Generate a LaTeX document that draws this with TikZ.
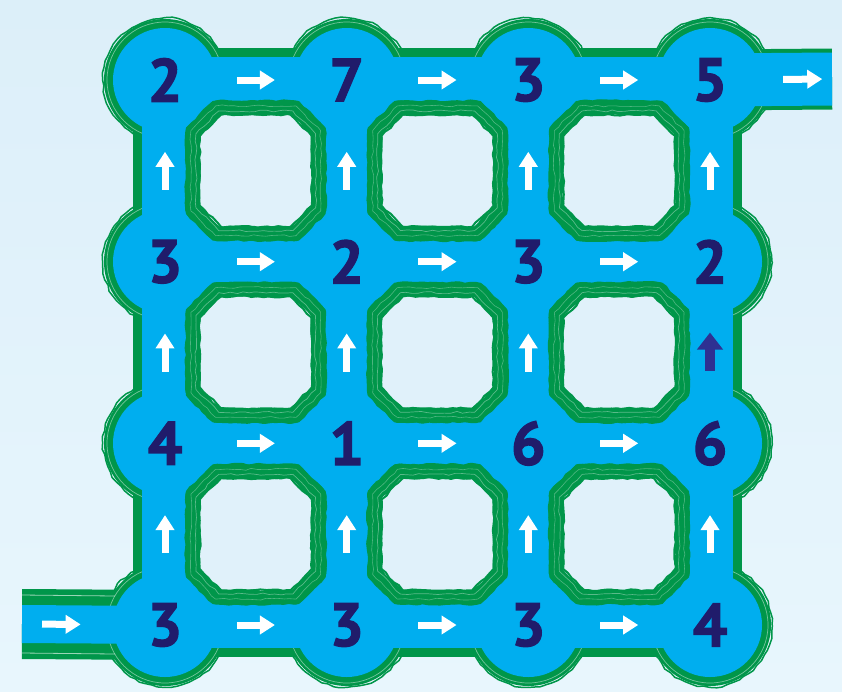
\documentclass[tikz,border=0pt]{standalone}
\usepackage{fontspec}
\setsansfont{PT Sans}[BoldFeatures={FakeBold=2}]
\usetikzlibrary{calc,arrows.meta,decorations.pathmorphing}

\definecolor{bgtop}{HTML}{DCEFF9}
\definecolor{bgbot}{HTML}{E8F6FD}
\definecolor{bgisle}{HTML}{E0F1FA}
\definecolor{water}{HTML}{00AEEF}
\definecolor{grass}{HTML}{00964A}
\definecolor{navy}{HTML}{201C6B}
\definecolor{darkflow}{HTML}{2E3192}

\tikzset{
  bank/.style={grass, line width=64pt},
  channel/.style={water, line width=46pt},
  flow/.style={white, line width=7pt, -{Triangle[length=15pt,width=18pt]}},
  darkarrow/.style={darkflow, line width=10pt, -{Triangle[length=17pt,width=25pt]}},
  num/.style={text=navy, inner sep=0pt, font=\sffamily\bfseries\fontsize{61}{61}\selectfont},
  rough/.style={decorate, decoration={random steps, segment length=6pt, amplitude=1pt}},
}

% octagon of an island, centred on the pic origin
\newcommand\octo{(-63,-39) -- (-39,-63) -- (39,-63) -- (63,-39) -- (63,39) -- (39,63) -- (-39,63) -- (-63,39) -- cycle}

\tikzset{isle/.pic={
  \fill[bgisle] \octo;
  \draw[grass, line width=15pt, line join=round, rough] \octo;
  \draw[grass, line width=2.5pt, line join=round, rough, scale=1.09] \octo;
  \draw[grass, line width=2pt, line join=round, rough, scale=.89] \octo;
  \draw[white, opacity=.35, line width=.7pt, rough, scale=.95] \octo;
  \draw[white, opacity=.3, line width=.6pt, rough, scale=1.03] \octo;
}}

\begin{document}
\begin{tikzpicture}[x=1pt,y=-1pt]
\useasboundingbox (0,0) rectangle (842,691);
\shade[top color=bgtop, bottom color=bgbot] (0,0) rectangle (842,691);

% grid points, rows from the top
\foreach \r/\y in {1/80,2/261.7,3/443.3,4/625}
  \foreach \c/\x in {1/165,2/346.7,3/528.3,4/710}
    \coordinate (n-\r-\c) at (\x,\y);
\coordinate (in) at (22,624);
\coordinate (out) at (832,79);

% green banks
\draw[grass, line width=70pt] (in) -- (n-4-1);
\draw[grass, line width=61pt] (n-1-4) -- (out);
\foreach \r in {1,...,4}
  \foreach \c [count=\d from 2] in {1,2,3} {
    \draw[bank] (n-\r-\c) -- (n-\r-\d);
    \draw[bank] (n-\c-\r) -- (n-\d-\r);
  }
\foreach \r in {1,...,4}
  \foreach \c in {1,...,4} {
    \fill[grass] (n-\r-\c) circle[radius=61pt];
    \draw[grass, line width=1.5pt, rough] (n-\r-\c) circle[radius=62pt];
    \draw[white, opacity=.45, line width=.7pt] (n-\r-\c) circle[radius=58pt];
  }
\draw[white, opacity=.6, line width=.8pt] ($(in)+(0,-29)$) -- ($(n-4-1)+(-50,-29)$);
\draw[white, opacity=.6, line width=.8pt] ($(in)+(0,29)$) -- ($(n-4-1)+(-50,29)$);

% water
\draw[water, line width=38pt] (in) -- (n-4-1);
\draw[water, line width=53pt] (n-1-4) -- (out);
\foreach \r in {1,...,4}
  \foreach \c [count=\d from 2] in {1,2,3} {
    \draw[channel] (n-\r-\c) -- (n-\r-\d);
    \draw[channel] (n-\c-\r) -- (n-\d-\r);
  }
\foreach \r in {1,...,4}
  \foreach \c in {1,...,4}
    \fill[water] (n-\r-\c) circle[radius=52pt];

% islands
\foreach \x in {255.8,437.5,619.2}
  \foreach \y in {170.8,352.5,534.2}
    \pic at (\x,\y) {isle};

% flow arrows
\draw[flow] ($(in)!0.14!(n-4-1)$) -- ($(in)!0.41!(n-4-1)$);
\draw[flow] ($(n-1-4)!0.6!(out)$) -- ($(n-1-4)!0.92!(out)$);
\foreach \r in {1,...,4}
  \foreach \c [count=\d from 2] in {1,2,3}
    \draw[flow] ($(n-\r-\c)!0.395!(n-\r-\d)$) -- ($(n-\r-\c)!0.605!(n-\r-\d)$);
\foreach \c in {1,...,4}
  \foreach \r [count=\s from 2] in {1,2,3} {
    \ifnum\c\r=42
      \draw[darkarrow] ($(n-\s-\c)!0.4!(n-\r-\c)$) -- ($(n-\s-\c)!0.61!(n-\r-\c)$);
    \else
      \draw[flow] ($(n-\s-\c)!0.395!(n-\r-\c)$) -- ($(n-\s-\c)!0.605!(n-\r-\c)$);
    \fi
  }

% values
\foreach \r/\c/\v in {1/1/2,1/2/7,1/3/3,1/4/5,
                      2/1/3,2/2/2,2/3/3,2/4/2,
                      3/1/4,3/2/1,3/3/6,3/4/6,
                      4/1/3,4/2/3,4/3/3,4/4/4}
  \node[num] (v-\r-\c) at (n-\r-\c) {\v};
\end{tikzpicture}
\end{document}
